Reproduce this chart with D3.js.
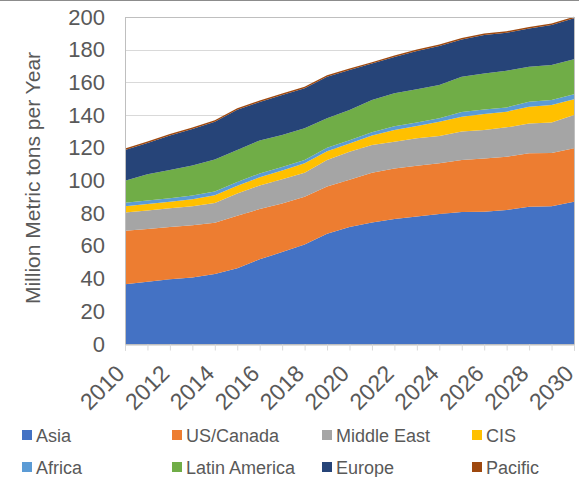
<!DOCTYPE html>
<html>
<head>
<meta charset="utf-8">
<script src="https://cdn.jsdelivr.net/npm/d3@7"></script>
<style>
  body { margin: 0; background: #fff; }
  text { font-family: "Liberation Sans", Arial, sans-serif; fill: #595959; }
</style>
</head>
<body>
<svg id="chart" width="579" height="477"></svg>
<script>
var years = [2010, 2011, 2012, 2013, 2014, 2015, 2016, 2017, 2018, 2019, 2020,
             2021, 2022, 2023, 2024, 2025, 2026, 2027, 2028, 2029, 2030];

var seriesNames = ["Asia", "US/Canada", "Middle East", "CIS", "Africa", "Latin America", "Europe", "Pacific"];
var seriesColors = ["#4472C4", "#ED7D31", "#A5A5A5", "#FFC000", "#5B9BD5", "#70AD47", "#264478", "#9E480E"];

var asia         = [36.5, 38.1, 39.6, 40.7, 42.8, 46.3, 51.8, 56.2, 60.8, 67.4, 71.5, 74.3, 76.4, 78.0, 79.5, 80.7, 80.9, 82.0, 84.0, 84.2, 87.0];
var usCanada     = [32.7, 32.3, 31.9, 31.9, 31.4, 32.2, 30.7, 29.8, 29.3, 28.9, 29.0, 30.5, 31.0, 31.0, 31.0, 31.8, 32.6, 32.6, 32.6, 32.6, 32.7];
var middleEast   = [11.2, 11.3, 11.5, 11.6, 12.1, 13.5, 14.5, 14.7, 14.7, 16.2, 17.1, 16.9, 16.3, 16.8, 16.7, 17.4, 17.4, 17.9, 18.3, 18.6, 20.4];
var cis          = [3.8, 3.9, 4.0, 4.4, 4.7, 4.8, 5.0, 5.4, 5.8, 5.4, 5.0, 5.8, 7.2, 7.5, 8.8, 9.1, 9.8, 9.6, 10.2, 10.8, 9.6];
var africa       = [2.2, 2.2, 2.1, 2.2, 2.2, 2.3, 2.3, 2.1, 2.0, 2.1, 2.0, 2.0, 2.3, 2.2, 2.0, 2.9, 2.8, 2.6, 3.0, 3.0, 3.0];
var latinAmerica = [13.5, 16.0, 17.3, 18.4, 19.6, 19.6, 20.2, 19.6, 19.3, 18.0, 18.5, 19.7, 20.1, 20.3, 20.4, 21.5, 22.0, 22.5, 21.4, 21.4, 21.4];
var europe       = [18.8, 19.2, 21.1, 22.3, 23.2, 24.6, 23.5, 24.5, 24.5, 25.5, 24.5, 22.3, 22.2, 23.4, 23.9, 22.9, 23.5, 23.2, 23.5, 24.5, 25.1];
var pacific      = [0.9, 0.9, 0.9, 0.9, 0.9, 0.9, 0.9, 0.9, 0.9, 0.9, 0.9, 0.9, 0.9, 0.9, 0.9, 0.9, 0.9, 0.9, 0.9, 0.9, 0.9];

var yTicks = [0, 20, 40, 60, 80, 100, 120, 140, 160, 180, 200];
var xLabelYears = [2010, 2012, 2014, 2016, 2018, 2020, 2022, 2024, 2026, 2028, 2030];

var allSeries = [asia, usCanada, middleEast, cis, africa, latinAmerica, europe, pacific];

// one row per year for d3.stack
var table = years.map(function(y, i) {
  var row = { year: y };
  seriesNames.forEach(function(name, k) { row[name] = allSeries[k][i]; });
  return row;
});

var svg = d3.select("#chart");
var plotLeft = 125, plotRight = 574, plotTop = 17, plotBottom = 344;

var xScale = d3.scaleLinear().domain([2010, 2030]).range([plotLeft, plotRight]);
var yScale = d3.scaleLinear().domain([0, 200]).range([plotBottom, plotTop]);

// outer chart border (clipped at the top)
svg.append("line")
  .attr("x1", 0).attr("x2", 579).attr("y1", 0.5).attr("y2", 0.5)
  .attr("stroke", "#8c8c8c").attr("stroke-width", 1);

// grid lines
svg.append("g").selectAll("line")
  .data(yTicks)
  .enter().append("line")
  .attr("x1", plotLeft).attr("x2", plotRight)
  .attr("y1", function(d) { return Math.round(yScale(d)) + 0.5; })
  .attr("y2", function(d) { return Math.round(yScale(d)) + 0.5; })
  .attr("stroke", "#d9d9d9");

var stack = d3.stack().keys(seriesNames);
var layers = stack(table);

var area = d3.area()
  .x(function(d) { return xScale(d.data.year); })
  .y0(function(d) { return yScale(d[0]); })
  .y1(function(d) { return yScale(d[1]); });

svg.append("g").selectAll("path")
  .data(layers)
  .enter().append("path")
  .attr("d", area)
  .attr("fill", function(d, i) { return seriesColors[i]; });

// plot area border
svg.append("rect")
  .attr("x", plotLeft + 0.5).attr("y", plotTop + 0.5)
  .attr("width", plotRight - plotLeft).attr("height", plotBottom - plotTop)
  .attr("fill", "none").attr("stroke", "#bfbfbf");

// y axis
var yAxis = d3.axisLeft(yScale).tickValues(yTicks).tickSize(0).tickPadding(20);
var gy = svg.append("g").attr("transform", "translate(" + plotLeft + ",0)").call(yAxis);
gy.select(".domain").remove();
gy.selectAll("text")
  .attr("font-size", 22)
  .attr("font-family", "Liberation Sans, Arial, sans-serif")
  .style("fill", "#595959");

// x axis ticks
var xAxis = d3.axisBottom(xScale).tickValues(years).tickSize(6).tickFormat("");
var gx = svg.append("g").attr("transform", "translate(0," + (plotBottom + 0.5) + ")").call(xAxis);
gx.select(".domain").attr("stroke", "#bfbfbf");
gx.selectAll(".tick line").attr("stroke", "#d9d9d9");

// rotated x labels
svg.append("g").selectAll("text")
  .data(xLabelYears)
  .enter().append("text")
  .attr("text-anchor", "end")
  .attr("font-size", 23)
  .attr("transform", function(d) {
    return "translate(" + (xScale(d) + 1) + "," + 375 + ") rotate(-45)";
  })
  .text(function(d) { return d; });

// y title
svg.append("text")
  .attr("text-anchor", "middle")
  .attr("font-size", 21)
  .attr("transform", "translate(40,178) rotate(-90)")
  .text("Million Metric tons per Year");

// legend
var legendX = [22, 172, 322, 472];
var legendY = [435, 467];
var legend = svg.append("g").selectAll("g")
  .data(seriesNames)
  .enter().append("g")
  .attr("transform", function(d, i) {
    return "translate(" + legendX[i % 4] + "," + legendY[Math.floor(i / 4)] + ")";
  });
legend.append("rect")
  .attr("x", 0).attr("y", -5).attr("width", 10).attr("height", 10)
  .attr("fill", function(d, i) { return seriesColors[i]; });
legend.append("text")
  .attr("x", 14).attr("y", 6.5)
  .attr("font-size", 18)
  .text(function(d) { return d; });
</script>
</body>
</html>
